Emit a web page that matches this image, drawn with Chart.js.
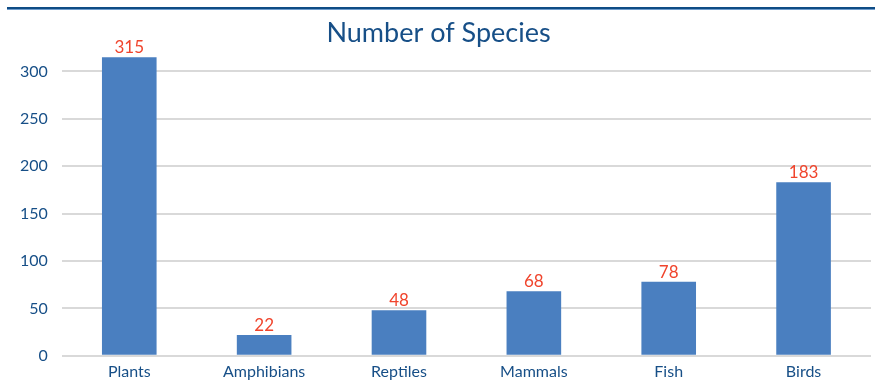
<!DOCTYPE html>
<html><head><meta charset="utf-8">
<script src="https://cdn.jsdelivr.net/npm/chart.js@4/dist/chart.umd.min.js"></script>
<style>
html,body{margin:0;padding:0;background:#fff;}
#wrap{position:relative;width:875px;height:391px;}
#topline{position:absolute;left:7px;top:7px;width:868px;height:2px;background:#0f4c85;border-bottom:1px solid #6f9ccc;}
canvas{position:absolute;left:0;top:0;}
</style></head>
<body><div id="wrap"><canvas id="c" width="875" height="391"></canvas><div id="topline"></div></div>
<script>
const categories = ["Plants","Amphibians","Reptiles","Mammals","Fish","Birds"];
const speciesCounts = [315,22,48,68,78,183];
const yTicks = [0,50,100,150,200,250,300];

const labelPlugin = {
  id:'vals',
  afterDatasetsDraw(chart){
    const ctx = chart.ctx;
    const meta = chart.getDatasetMeta(0);
    ctx.save();
    ctx.fillStyle = '#f0442c';
    ctx.font = '17px Lato, "Open Sans", sans-serif';
    ctx.textAlign = 'center';
    ctx.textBaseline = 'bottom';
    meta.data.forEach((el,i)=>{
      ctx.fillText(String(speciesCounts[i]), el.x, el.y - 1);
    });
    ctx.restore();
  }
};

new Chart(document.getElementById('c'), {
  type:'bar',
  data:{labels:categories, datasets:[{data:speciesCounts, backgroundColor:'#4a7fc0', barPercentage:0.405, categoryPercentage:1}]},
  options:{
    responsive:false, animation:false,
    layout:{padding:{left:6,right:4,top:0,bottom:4}},
    plugins:{
      legend:{display:false}, tooltip:{enabled:false},
      title:{display:true, text:'Number of Species', color:'#174f87', font:{family:'Lato, "Open Sans", sans-serif', size:27, weight:'normal'}, padding:{top:17,bottom:4}}
    },
    scales:{
      x:{grid:{display:false, drawTicks:false}, border:{display:false}, ticks:{color:'#174f87', font:{family:'Lato, "Open Sans", sans-serif', size:16}, padding:6}},
      y:{min:0, max:319,
        afterBuildTicks(ax){ ax.ticks = yTicks.map(v=>({value:v})); },
        grid:{color:'#d9d9d9', lineWidth:2, drawTicks:false},
        border:{display:false},
        ticks:{color:'#174f87', font:{family:'Lato, "Open Sans", sans-serif', size:16}, padding:14}
      }
    }
  },
  plugins:[labelPlugin]
});
</script></body></html>
